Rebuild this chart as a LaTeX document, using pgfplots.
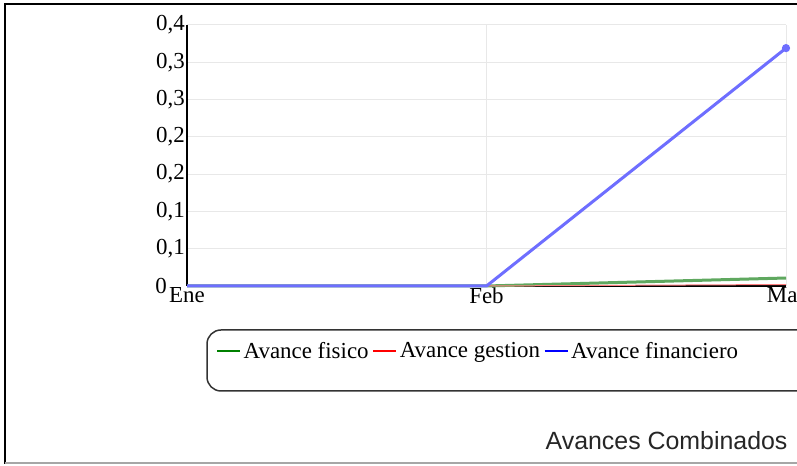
\documentclass[border=0pt]{standalone}
\usepackage{fontspec}
\setmainfont{Liberation Serif}
\newfontfamily\arialf{Liberation Sans}
\usepackage{pgfplots}
\pgfplotsset{compat=1.18}
\definecolor{gridgray}{HTML}{E8E8E8}
\definecolor{finblue}{HTML}{6E6EFF}
\definecolor{fisgreen}{HTML}{5FA85F}
\definecolor{gesred}{HTML}{FF8080}
\begin{document}
\begin{tikzpicture}[x=1bp,y=1bp]
\useasboundingbox (0,0) rectangle (797,466);
\fill[white] (0,0) rectangle (797,466);
% frame
\draw[black, line width=2bp] (5,2) -- (5,462) -- (800,462);
\draw[gray!70, line width=2bp] (5,3) -- (800,3);
% legend box
\draw[black!80, line width=1.5bp, rounded corners=14bp] (207,75) rectangle (840,136);
\node[anchor=base east, font=\arialf\fontsize{25}{29}\selectfont, text=black!85] at (791,16) {Avances Combinados};
\begin{axis}[
  at={(187bp,180bp)}, anchor=south west,
  scale only axis, width=599bp, height=261bp,
  xmin=0, xmax=2, ymin=0, ymax=0.35,
  axis x line=bottom, axis y line=left,
  axis line style={-, line width=1.5bp, black},
  xtick={0,1,2}, xticklabels={Ene,Feb,Mar},
  ytick={0,0.05,0.1,0.15,0.2,0.25,0.3,0.35},
  yticklabels={{0\rule{18bp}{0pt}},{0,1},{0,1},{0,2},{0,2},{0,3},{0,3},{0,4}},
  grid=major, major grid style={gridgray, line width=1bp},
  major tick length=0pt,
  ticklabel style={font=\fontsize{23}{26}\selectfont},
  yticklabel style={inner xsep=2bp},
  xticklabel style={inner ysep=1bp},
  clip=false,
  legend columns=3,
  legend style={draw=none, fill=none, at={(0.044,-0.249)}, anchor=west,
    font=\fontsize{23}{27}\selectfont,
    /tikz/every even column/.append style={column sep=2bp},
    /tikz/every odd column/.append style={column sep=1bp}},
  legend image code/.code={\draw[#1] (0bp,0bp) -- (23bp,0bp);},
]
\addlegendimage{green!50!black, line width=1.2bp}
\addlegendentry{Avance fisico}
\addlegendimage{red, line width=1.2bp}
\addlegendentry{Avance gestion}
\addlegendimage{blue, line width=1.2bp}
\addlegendentry{Avance financiero}
\addplot[fisgreen, line width=3bp, forget plot] coordinates {(0,0) (1,0) (2,0.0107)};
\addplot[gesred, line width=1bp, forget plot] coordinates {(0,0) (1,0) (2,0.002)};
\addplot[finblue, line width=3bp, mark=*, mark indices={3}, mark size=2.5bp, forget plot] coordinates {(0,0) (1,0) (2,0.319)};
\end{axis}
\end{tikzpicture}
\end{document}
